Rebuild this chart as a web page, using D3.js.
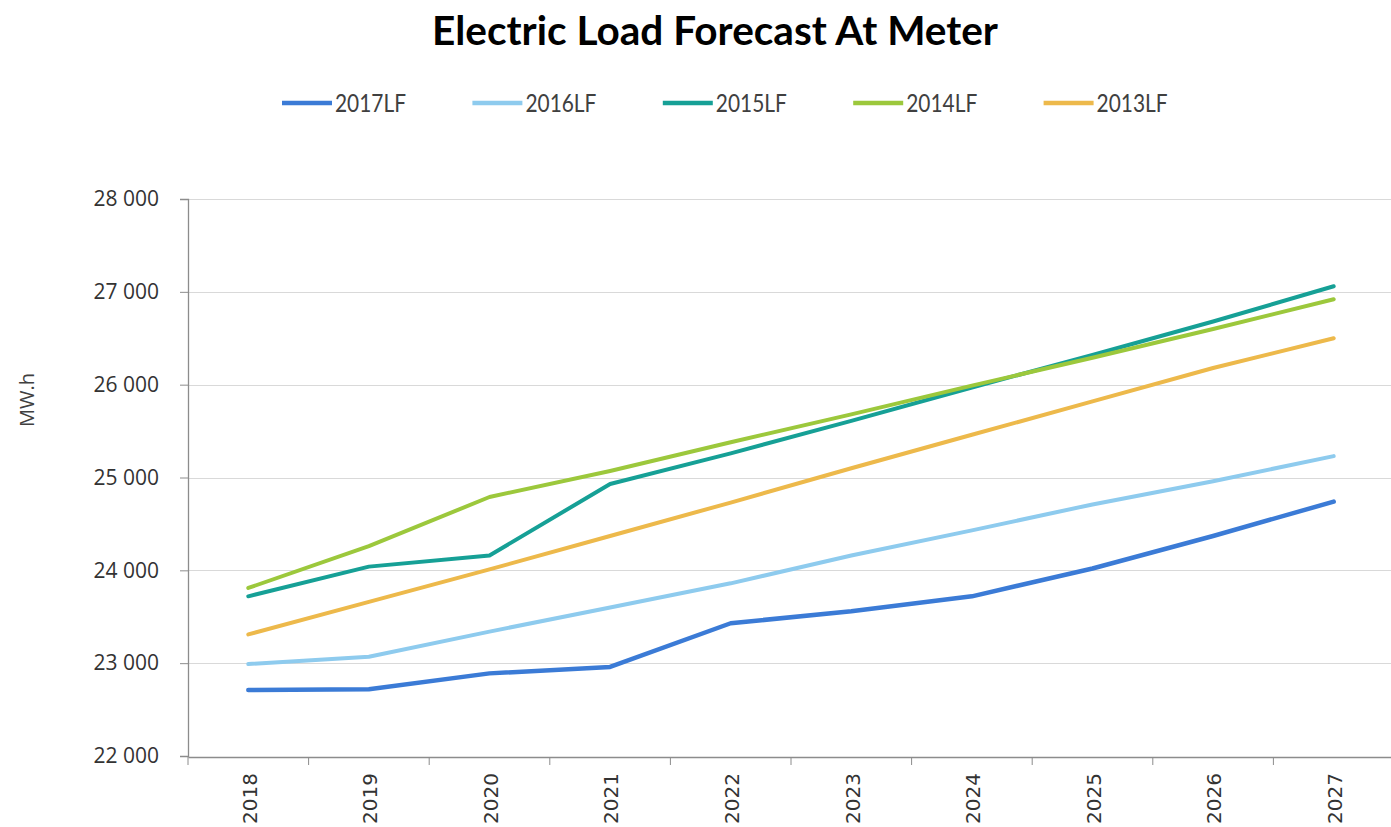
<!DOCTYPE html>
<html>
<head>
<meta charset="utf-8">
<script src="https://cdn.jsdelivr.net/npm/d3@7"></script>
<style>
  html, body { margin: 0; padding: 0; background: #fff; overflow: hidden; }
</style>
</head>
<body>
<div id="chart"></div>
<script>
// categories / series
const years = ["2018", "2019", "2020", "2021", "2022", "2023", "2024", "2025", "2026", "2027"];
const seriesNames = ["2017LF", "2016LF", "2015LF", "2014LF", "2013LF"];
const seriesColors = ["#3b7bd6", "#8ecbee", "#16a096", "#9cc83c", "#edb94b"];
const lf2017 = [22710, 22720, 22890, 22960, 23430, 23560, 23720, 24020, 24370, 24740];
const lf2016 = [22990, 23070, 23340, 23600, 23860, 24160, 24430, 24710, 24960, 25230];
const lf2015 = [23720, 24040, 24160, 24930, 25260, 25610, 25970, 26320, 26680, 27060];
const lf2014 = [23810, 24260, 24790, 25070, 25380, 25680, 25990, 26290, 26600, 26920];
const lf2013 = [23310, 23660, 24010, 24370, 24730, 25100, 25460, 25820, 26180, 26500];
const yTicks = [22000, 23000, 24000, 25000, 26000, 27000, 28000];

const width = 1391, height = 827;
const margin = { top: 199, right: -3, bottom: 70, left: 188 };

const series = [lf2017, lf2016, lf2015, lf2014, lf2013].map((vals, i) => ({
	name: seriesNames[i],
	color: seriesColors[i],
	values: vals.map((v, j) => ({ year: years[j], value: v }))
}));

const svg = d3.select("#chart").append("svg")
	.attr("width", width)
	.attr("height", height);

const x = d3.scaleBand()
	.domain(years)
	.range([margin.left, width - margin.right]);

const y = d3.scaleLinear()
	.domain([22000, 28000])
	.range([height - margin.bottom - 1, margin.top]);

// "28 000" style labels
const fmt = d3.formatLocale({ decimal: ".", thousands: " ", grouping: [3], currency: ["", ""] }).format(",");

// title
svg.append("text")
	.attr("x", 715)
	.attr("y", 45)
	.attr("text-anchor", "middle")
	.attr("font-family", "Lato, 'Open Sans', sans-serif")
	.attr("font-weight", "bold")
	.attr("font-size", 40)
	.attr("textLength", 566)
	.attr("lengthAdjust", "spacingAndGlyphs")
	.attr("fill", "#000")
	.text("Electric Load Forecast At Meter");

// legend
const legend = svg.append("g").selectAll("g")
	.data(series)
	.enter().append("g")
	.attr("transform", (d, i) => "translate(" + (282 + i * 190.4) + ",103)");

legend.append("line")
	.attr("x1", 0).attr("x2", 50)
	.attr("stroke", d => d.color)
	.attr("stroke-width", 4.5);

legend.append("text")
	.attr("x", 53)
	.attr("dy", "0.36em")
	.attr("font-family", "Lato, sans-serif")
	.attr("font-size", 25)
	.attr("textLength", 71)
	.attr("lengthAdjust", "spacingAndGlyphs")
	.attr("fill", "#404040")
	.text(d => d.name);

// gridlines
svg.append("g")
	.selectAll("line")
	.data(yTicks.filter(t => t > 22000))
	.enter().append("line")
	.attr("x1", margin.left)
	.attr("x2", width)
	.attr("y1", d => Math.round(y(d)) + 0.5)
	.attr("y2", d => Math.round(y(d)) + 0.5)
	.attr("stroke", "#d9d9d9")
	.attr("stroke-width", 1.2);

// y axis
const yAxis = svg.append("g")
	.attr("transform", "translate(" + margin.left + ",0)")
	.call(d3.axisLeft(y).tickValues(yTicks).tickFormat(fmt).tickSize(8).tickPadding(21));
yAxis.select(".domain").attr("stroke", "#8c8c8c").attr("stroke-width", 1.3);
yAxis.selectAll(".tick line").attr("stroke", "#8c8c8c");
yAxis.selectAll(".tick text")
	.attr("font-family", "'Open Sans', sans-serif")
	.attr("font-size", 21)
	.attr("fill", "#333");

// x axis
const xAxis = svg.append("g")
	.attr("transform", "translate(0," + (height - margin.bottom) + ")")
	.call(d3.axisBottom(x).tickSize(0).tickSizeOuter(0));
xAxis.select(".domain").attr("stroke", "#8c8c8c").attr("stroke-width", 1.3);
xAxis.selectAll(".tick text")
	.attr("transform", "translate(1,16) rotate(-90)")
	.attr("text-anchor", "end")
	.attr("dy", "0.36em")
	.attr("y", 0)
	.attr("x", 0)
	.attr("font-family", "'DejaVu Sans', sans-serif")
	.attr("font-size", 20)
	.attr("fill", "#333");

// category boundary ticks
xAxis.selectAll(".bound")
	.data(years.concat(["end"]))
	.enter().append("line")
	.attr("class", "bound")
	.attr("x1", (d, i) => margin.left + i * x.step())
	.attr("x2", (d, i) => margin.left + i * x.step())
	.attr("y1", 0).attr("y2", 8)
	.attr("stroke", "#8c8c8c");

// y axis title
svg.append("text")
	.attr("transform", "translate(34,400) rotate(-90)")
	.attr("text-anchor", "middle")
	.attr("font-family", "'Open Sans', sans-serif")
	.attr("font-size", 20)
	.attr("fill", "#404040")
	.text("MW.h");

// lines
const line = d3.line()
	.x(d => x(d.year) + x.bandwidth() / 2)
	.y(d => y(d.value));

svg.append("g").selectAll("path")
	.data(series)
	.enter().append("path")
	.attr("d", d => line(d.values))
	.attr("fill", "none")
	.attr("stroke", d => d.color)
	.attr("stroke-width", (d, i) => i === 0 ? 4.5 : 4)
	.attr("stroke-linejoin", "round")
	.attr("stroke-linecap", "round");
</script>
</body>
</html>
